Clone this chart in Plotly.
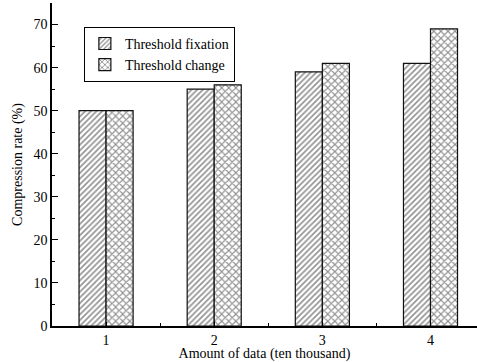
import plotly.graph_objects as go

categories = [1, 2, 3, 4]
fixation = [50, 55, 59, 61]
change = [50, 56, 61, 69]
series_names = ["Threshold fixation", "Threshold change"]

font_family = "Liberation Serif"

fig = go.Figure()
fig.add_trace(go.Bar(
    x=categories, y=fixation, name=series_names[0],
    marker=dict(color="white", line=dict(color="#111", width=1.2),
                pattern=dict(shape="/", size=4, solidity=0.4, fgcolor="#222", bgcolor="white")),
))
fig.add_trace(go.Bar(
    x=categories, y=change, name=series_names[1],
    marker=dict(color="white", line=dict(color="#111", width=1.2),
                pattern=dict(shape="x", size=5, solidity=0.4, fgcolor="#222", bgcolor="white")),
))

fig.update_layout(
    width=477, height=362,
    margin=dict(l=52, r=0, t=3, b=36),
    paper_bgcolor="white", plot_bgcolor="white",
    barmode="group", bargap=0.5, bargroupgap=0,
    font=dict(family=font_family, size=14, color="black"),
    showlegend=True,
    legend=dict(x=0.075, y=0.926, xanchor="left", yanchor="top",
                bordercolor="black", borderwidth=1, bgcolor="white",
                font=dict(family=font_family, size=14, color="black"),
                tracegroupgap=0, itemwidth=30),
    xaxis=dict(range=[0.5, 4.43], tickvals=categories, ticktext=[str(c) for c in categories],
               showline=True, linecolor="black", linewidth=1.5,
               ticks="inside", ticklen=4, tickcolor="black",
               minor=dict(tickvals=[1.5, 2.5, 3.5], ticks="inside", ticklen=3, tickcolor="black"),
               showgrid=False, zeroline=False,
               title=dict(text="Amount of data (ten thousand)", standoff=0,
                          font=dict(family=font_family, size=14)),
               tickfont=dict(family=font_family, size=14)),
    yaxis=dict(range=[0, 75], tickvals=[0, 10, 20, 30, 40, 50, 60, 70],
               showline=True, linecolor="black", linewidth=1.5,
               ticks="inside", ticklen=6, tickcolor="black",
               minor=dict(dtick=5, ticks="inside", ticklen=3, tickcolor="black"),
               showgrid=False, zeroline=False,
               title=dict(text="Compression rate (%)", standoff=8,
                          font=dict(family=font_family, size=14)),
               tickfont=dict(family=font_family, size=14)),
)

fig.write_html("out.html", config={"displayModeBar": False},
               post_script="document.body.style.margin='0';")
